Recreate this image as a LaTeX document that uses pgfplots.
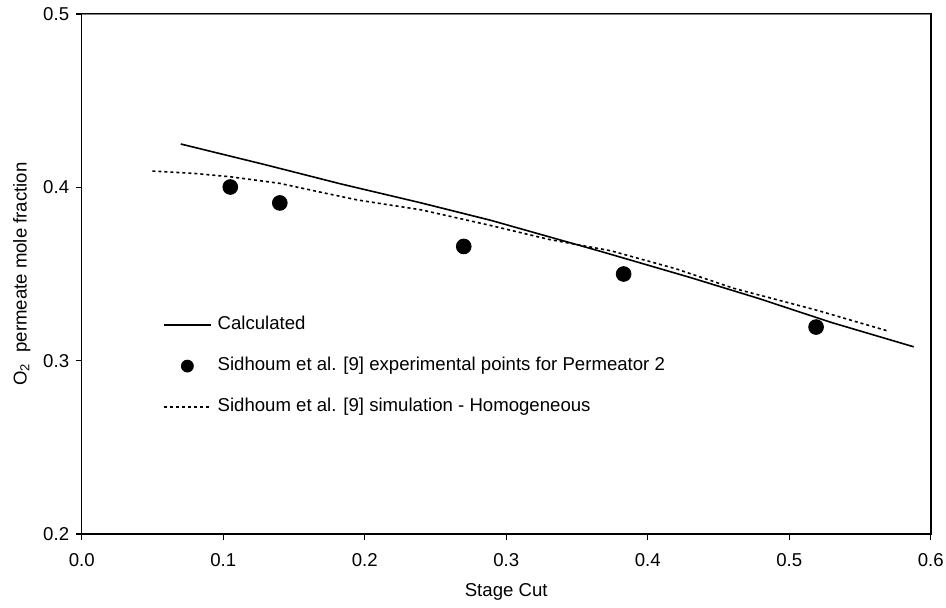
\documentclass[border=0pt]{standalone}
\usepackage{pgfplots}
\pgfplotsset{compat=1.18}
\usepackage{fontspec}
\setmainfont{Liberation Sans}
\begin{document}
\fontsize{9.3}{11}\selectfont
\begin{tikzpicture}
\begin{axis}[
  scale only axis,
  width=424.5pt, height=260pt,
  xmin=0, xmax=0.6, ymin=0.2, ymax=0.5,
  xtick={0,0.1,0.2,0.3,0.4,0.5,0.6},
  ytick={0.2,0.3,0.4,0.5},
  xticklabel style={yshift=-3.5pt, /pgf/number format/.cd,fixed,fixed zerofill,precision=1},
  yticklabel style={/pgf/number format/.cd,fixed,fixed zerofill,precision=1},
  /pgf/number format/assume math mode=true,
  tick align=outside,
  xtick pos=bottom, ytick pos=left,
  major tick length=3pt,
  axis line style={line width=0.8pt, black},
  every tick/.style={line width=0.6pt, black},
  ticklabel style={font=\fontsize{9.3}{11}\selectfont},
  label style={font=\fontsize{9.3}{11}\selectfont},
  xlabel={Stage Cut},
  xlabel style={at={(axis description cs:0.5,0)}, anchor=center, yshift=-29pt},
  ylabel={O\textsubscript{2}\ \ permeate mole fraction},
  legend cell align=left,
  legend style={draw=none, fill=none, inner sep=0pt, outer sep=0pt,
    at={(axis cs:0.0575,0.3259)}, anchor=north west,
    row sep=11.2pt,
    nodes={inner sep=0pt, text height=0.75em, text depth=0.25em, font=\fontsize{9.3}{11}\selectfont},
    /tikz/every odd column/.append style={column sep=3pt}},
  legend image code/.code={\draw[mark repeat=2,mark phase=2,#1] plot coordinates {(0pt,0pt)(11.75pt,0pt)(23.5pt,0pt)};},
]
\addplot[black, line width=0.8pt] coordinates {
(0.070,0.425)(0.130,0.413)(0.183,0.402)(0.240,0.391)(0.289,0.381)(0.367,0.363)(0.430,0.348)(0.478,0.336)(0.530,0.322)(0.588,0.308)};
\addlegendentry{Calculated}
\addplot[only marks, mark=*, mark size=3.7pt, black,
  legend image post style={mark size=3pt}] coordinates {
(0.105,0.4002)(0.140,0.3910)(0.270,0.3659)(0.383,0.3500)(0.519,0.3194)};
\addlegendentry{Sidhoum et al. [9] experimental points for Permeator 2}
\addplot[black, line width=0.8pt, dash pattern=on 1.5pt off 1.5pt] coordinates {
(0.050,0.4094)(0.080,0.4080)(0.105,0.4061)(0.140,0.4023)(0.170,0.3970)(0.195,0.3927)(0.240,0.3870)(0.289,0.3780)(0.330,0.3700)(0.374,0.3634)(0.420,0.3530)(0.461,0.3417)(0.520,0.3290)(0.569,0.3173)};
\addlegendentry{Sidhoum et al. [9] simulation - Homogeneous}
\draw[line width=0.8pt, gray] (rel axis cs:0,1) -- (rel axis cs:1,1);
\draw[line width=0.8pt, black] (rel axis cs:1,0) -- (rel axis cs:1,1);
\coordinate (o) at (rel axis cs:0,0);
\end{axis}
\pgfresetboundingbox
\path (o) ++(-40.85pt,-36.5pt) rectangle ++(473pt,303.5pt);
\end{tikzpicture}
\end{document}
